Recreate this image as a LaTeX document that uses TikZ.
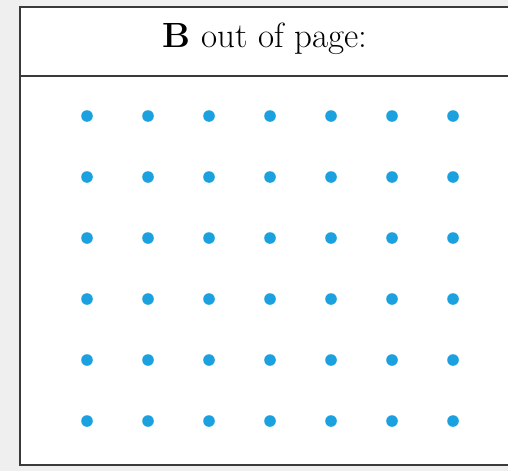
\documentclass[tikz,border=0pt]{standalone}
\usepackage{xcolor}
\definecolor{dotblue}{HTML}{1BA1DF}
\definecolor{framegray}{HTML}{3A3A3A}
\definecolor{pagegray}{HTML}{EFEFEF}
\begin{document}
\begin{tikzpicture}[x=1pt,y=-1pt]
    \fill [pagegray] (0,0) rectangle (508,471);
    \useasboundingbox (0,0) rectangle (508,471);
    \fill [white] (19.5,7) rectangle (508,464.5);
    \draw [framegray, line width=2pt] (508,7) -- (19.5,7) -- (19.5,464.5) -- (508,464.5);
    \draw [framegray, line width=2pt] (19.5,76) -- (508,76);
    \node [anchor=base] (title) at (265,47) {\fontsize{35}{40}\selectfont\textbf{B} out of page:};
    \foreach \i in {0,...,6}
      \foreach \j in {0,...,5}
        \fill [dotblue] (87+61*\i,116+61*\j) circle (5.8);
\end{tikzpicture}
\end{document}
